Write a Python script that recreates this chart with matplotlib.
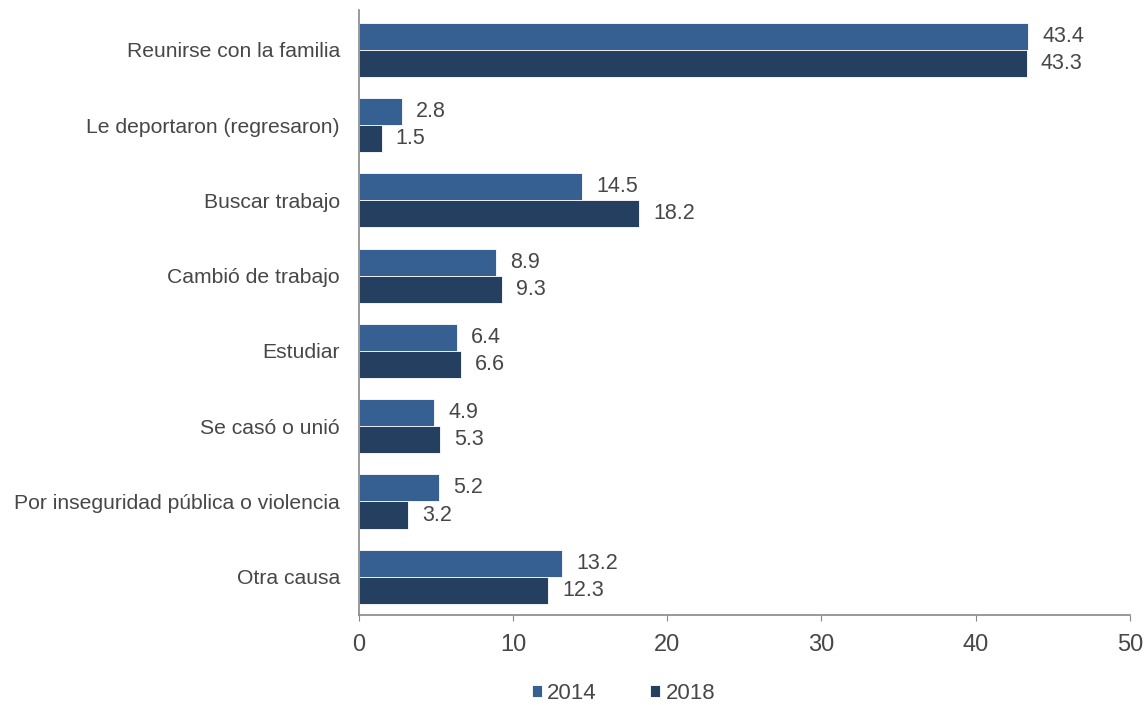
import numpy as np
import matplotlib.pyplot as plt

plt.rcParams['font.family'] = ['Liberation Sans', 'DejaVu Sans']

categories = ["Reunirse con la familia", "Le deportaron (regresaron)", "Buscar trabajo",
              "Cambió de trabajo", "Estudiar", "Se casó o unió",
              "Por inseguridad pública o violencia", "Otra causa"]
v2014 = [43.4, 2.8, 14.5, 8.9, 6.4, 4.9, 5.2, 13.2]
v2018 = [43.3, 1.5, 18.2, 9.3, 6.6, 5.3, 3.2, 12.3]

c14 = '#366092'
c18 = '#243f60'
txt = '#474747'

fig = plt.figure(figsize=(11.46, 7.05), dpi=100)
ax = fig.add_axes([0.313, 0.128, 0.673, 0.858])

y = np.arange(len(categories))
h = 0.36
b1 = ax.barh(y - h/2, v2014, height=h, color=c14, edgecolor='white', linewidth=0.6, label='2014')
b2 = ax.barh(y + h/2, v2018, height=h, color=c18, edgecolor='white', linewidth=0.6, label='2018')

for bars, vals in [(b1, v2014), (b2, v2018)]:
    for r, v in zip(bars, vals):
        ax.text(v + 0.9, r.get_y() + r.get_height()/2, f"{v:.1f}", va='center', ha='left',
                fontsize=15.5, color=txt)

ax.set_ylim(7.505, -0.53)
ax.set_xlim(0, 50)
ax.set_yticks(y)
ax.set_yticklabels(categories, fontsize=15.2, color=txt)
ax.set_xticks([0, 10, 20, 30, 40, 50])
ax.tick_params(axis='x', labelsize=17, colors=txt, length=4.5, color='#888888', pad=9)
ax.tick_params(axis='y', length=0, pad=13.5)
for s in ['top', 'right']:
    ax.spines[s].set_visible(False)
for s in ['left', 'bottom']:
    ax.spines[s].set_color('#888888')
    ax.spines[s].set_linewidth(1.2)

leg = fig.legend(handles=[b1, b2], labels=['2014', '2018'], loc='center',
                 bbox_to_anchor=(0.544, 0.017), ncol=2, frameon=False, fontsize=16,
                 handlelength=0.45, handleheight=0.45, columnspacing=2.4, handletextpad=0.25,
                 borderpad=0)
for t in leg.get_texts():
    t.set_color(txt)

fig.savefig('out.png', dpi=100)
